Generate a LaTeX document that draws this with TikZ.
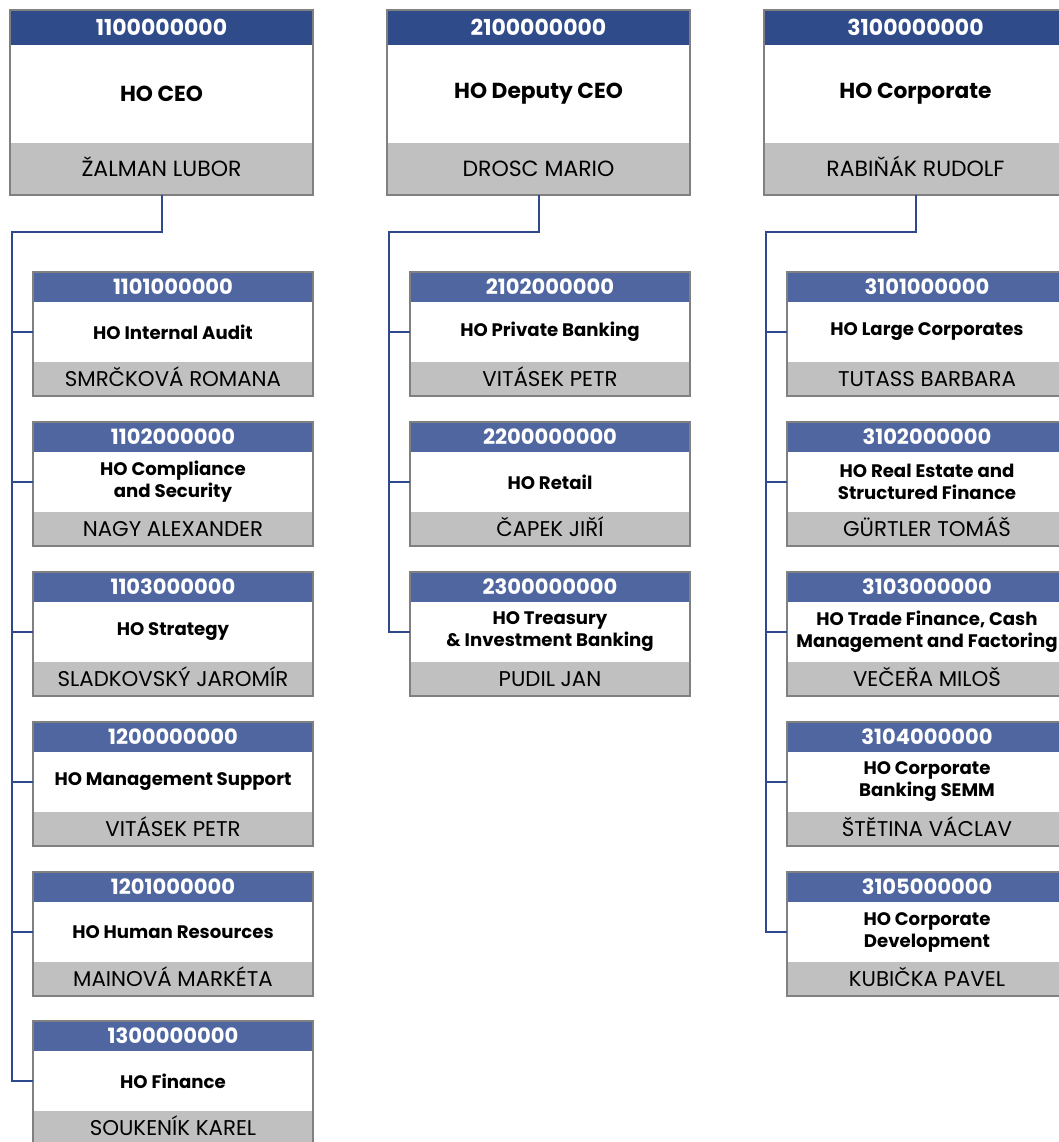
\documentclass[tikz,border=0pt]{standalone}
\usepackage{fontspec}
\setmainfont{Poppins}
\usetikzlibrary{positioning}

\definecolor{hodark}{HTML}{2F4B8A}
\definecolor{holight}{HTML}{4F66A0}
\definecolor{holine}{HTML}{2E4A8C}
\definecolor{hoframe}{HTML}{808080}
\definecolor{hogray}{HTML}{C0C0C0}

\newcommand{\topunit}[5]{%
  \node [tophead] (#1-h) at (#2,10) {#3};
  \node [topbody, below=0pt of #1-h] (#1-b) {#4};
  \node [topname, below=0pt of #1-b] (#1-n) {#5};
  \draw [frame] (#1-h.north west) rectangle (#1-n.south east);
}
\newcommand{\subunit}[6]{%
  \node [subhead] (#1-h) at (#2,#3) {#4};
  \node [subbody, below=0pt of #1-h] (#1-b) {#5};
  \node [subname, below=0pt of #1-b] (#1-n) {#6};
  \draw [frame] (#1-h.north west) rectangle (#1-n.south east);
}

\begin{document}
\begin{tikzpicture}[x=0.75pt, y=-0.75pt,
  cell/.style={inner sep=0pt, outer sep=0pt, align=center},
  tophead/.style={cell, anchor=north west, fill=hodark, text=white, font=\fontsize{16.5}{18}\selectfont\bfseries, minimum width=227.25pt, minimum height=26.25pt},
  topbody/.style={cell, fill=white, font=\fontsize{16.3}{18}\selectfont\bfseries, minimum width=227.25pt, minimum height=73.5pt},
  topname/.style={cell, fill=hogray, font=\fontsize{16.5}{18}\selectfont, text height=11.5pt, text depth=0pt, minimum width=227.25pt, minimum height=39pt},
  subhead/.style={cell, anchor=north west, fill=holight, text=white, font=\fontsize{15.8}{17}\selectfont\bfseries, minimum width=210pt, minimum height=22.5pt},
  subbody/.style={cell, fill=white, font=\fontsize{13.6}{16.5}\selectfont\bfseries, minimum width=210pt, minimum height=45pt},
  subname/.style={cell, fill=hogray, font=\fontsize{16}{17}\selectfont, text height=11.2pt, text depth=0pt, minimum width=210pt, minimum height=25.5pt},
  frame/.style={draw=hoframe, line width=1.875pt},
  link/.style={draw=holine, line width=1.5pt}]

\useasboundingbox (0,0) rectangle (1059,1142);
\clip (0,0) rectangle (1059,1142);

\topunit{ceo}{10}{1100000000}{HO CEO}{ŽALMAN LUBOR}
\topunit{deputy}{387}{2100000000}{HO Deputy CEO}{DROSC MARIO}
\topunit{corporate}{764}{3100000000}{HO Corporate}{RABIŇÁK RUDOLF}

\subunit{audit}{33}{272}{1101000000}{HO Internal Audit}{SMRČKOVÁ ROMANA}
\subunit{compliance}{33}{422}{1102000000}{HO Compliance\\and Security}{NAGY ALEXANDER}
\subunit{strategy}{33}{572}{1103000000}{HO Strategy}{SLADKOVSKÝ JAROMÍR}
\subunit{support}{33}{722}{1200000000}{HO Management Support}{VITÁSEK PETR}
\subunit{hr}{33}{872}{1201000000}{HO Human Resources}{MAINOVÁ MARKÉTA}
\subunit{finance}{33}{1021}{1300000000}{HO Finance}{SOUKENÍK KAREL}

\subunit{private}{410}{272}{2102000000}{HO Private Banking}{VITÁSEK PETR}
\subunit{retail}{410}{422}{2200000000}{HO Retail}{ČAPEK JIŘÍ}
\subunit{treasury}{410}{572}{2300000000}{HO Treasury\\\& Investment Banking}{PUDIL JAN}

\subunit{large}{787}{272}{3101000000}{HO Large Corporates}{TUTASS BARBARA}
\subunit{realestate}{787}{422}{3102000000}{HO Real Estate and\\Structured Finance}{GÜRTLER TOMÁŠ}
\subunit{trade}{787}{572}{3103000000}{HO Trade Finance, Cash\\Management and Factoring}{VEČEŘA MILOŠ}
\subunit{semm}{787}{722}{3104000000}{HO Corporate\\Banking SEMM}{ŠTĚTINA VÁCLAV}
\subunit{development}{787}{872}{3105000000}{HO Corporate\\Development}{KUBIČKA PAVEL}

\coordinate (bus1) at (11.5,232);
\coordinate (bus2) at (388.5,232);
\coordinate (bus3) at (765.5,232);

\draw [link] (ceo-n.south) |- (bus1) |- (finance-b.west);
\draw [link] (bus1 |- audit-b.west) -- (audit-b.west);
\draw [link] (bus1 |- compliance-b.west) -- (compliance-b.west);
\draw [link] (bus1 |- strategy-b.west) -- (strategy-b.west);
\draw [link] (bus1 |- support-b.west) -- (support-b.west);
\draw [link] (bus1 |- hr-b.west) -- (hr-b.west);

\draw [link] (deputy-n.south) |- (bus2) |- (treasury-b.west);
\draw [link] (bus2 |- private-b.west) -- (private-b.west);
\draw [link] (bus2 |- retail-b.west) -- (retail-b.west);

\draw [link] (corporate-n.south) |- (bus3) |- (development-b.west);
\draw [link] (bus3 |- large-b.west) -- (large-b.west);
\draw [link] (bus3 |- realestate-b.west) -- (realestate-b.west);
\draw [link] (bus3 |- trade-b.west) -- (trade-b.west);
\draw [link] (bus3 |- semm-b.west) -- (semm-b.west);

\end{tikzpicture}
\end{document}
